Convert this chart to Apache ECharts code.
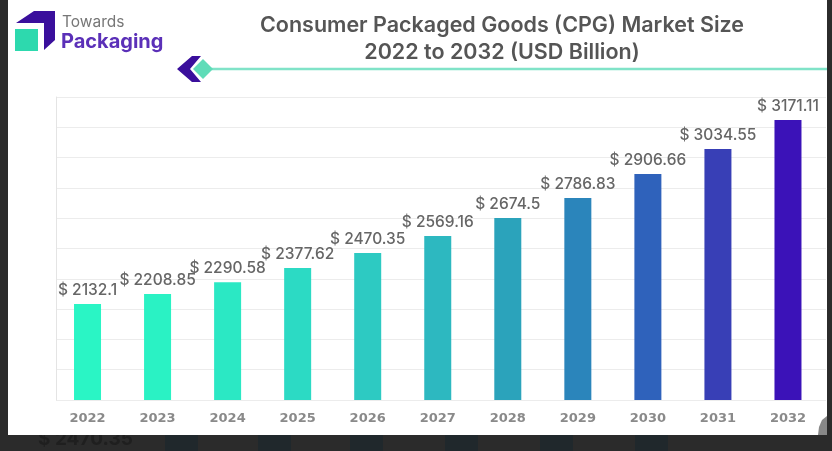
<!DOCTYPE html>
<html><head><meta charset="utf-8">
<style>html,body{margin:0;padding:0;background:#2b2b2b;overflow:hidden}#c{width:832px;height:451px;filter:blur(0.7px)}</style>
<script src="https://cdn.jsdelivr.net/npm/echarts@6/dist/echarts.min.js"></script>
</head><body><div id="c"></div>
<script>
const years=['2022','2023','2024','2025','2026','2027','2028','2029','2030','2031','2032'];
// Values printed above the bars in the picture.
const printedValues=['2132.1','2208.85','2290.58','2377.62','2470.35','2569.16','2674.5','2786.83','2906.66','3034.55','3171.11'];
// Bar heights as read against the unlabelled gridlines (the picture's bars are not proportional to the printed values).
const barLevels=[3.17,3.50,3.89,4.36,4.85,5.41,6.01,6.67,7.46,8.28,9.24];
const barColors=['#2af5c5','#2af2c4','#2be8c4','#2cdac4','#2dcac2','#2db8c0','#2ba3bb','#2b85bb','#2f62bb','#383fb6','#3b12b8'];
const titleLines='Consumer Packaged Goods (CPG) Market Size\n2022 to 2032 (USD Billion)';
const ghostX=[165,258,350,445,540,635];
const chart=echarts.init(document.getElementById('c'),null,{renderer:'canvas'});
const ghosts=ghostX.map(x=>({type:'rect',z:-3,shape:{x:x,y:430,width:33,height:21},style:{fill:'#20282c'}}));
chart.setOption({
  animation:false,
  backgroundColor:'transparent',
  grid:[
    {left:56,right:6,top:97,bottom:51},
    {left:52.5,right:9,top:97,bottom:51}
  ],
  xAxis:[
    {gridIndex:0,type:'category',data:years,show:false},
    {gridIndex:1,type:'category',data:years,
      axisLine:{show:false},axisTick:{show:false},
      axisLabel:{margin:12,color:'#8a8a8a',fontFamily:'DejaVu Sans',fontWeight:'bold',fontSize:13}}
  ],
  yAxis:[
    {gridIndex:0,type:'value',min:0,max:10,interval:1,
      axisLabel:{show:false},axisTick:{show:false},
      axisLine:{show:true,lineStyle:{color:'#e4e4e4',width:1}},
      splitLine:{show:true,lineStyle:{color:'#ececec',width:1}}},
    {gridIndex:1,type:'value',min:0,max:10,interval:1,show:false,splitLine:{show:false}}
  ],
  series:[{
    type:'bar',xAxisIndex:1,yAxisIndex:1,barWidth:27,
    data:barLevels.map((v,i)=>({value:v,itemStyle:{color:barColors[i]}})),
    label:{show:true,position:'top',distance:6,color:'#666',fontFamily:'Inter',fontWeight:500,fontSize:15.5,
      formatter:p=>'$ '+printedValues[p.dataIndex]}
  }],
  graphic:[
    ...ghosts,
    {type:'text',z:-3,style:{x:38,y:430,text:'$ 2470.35',fill:'#1f1f1f',font:'bold 19px Inter'}},
    {type:'rect',z:-2,shape:{x:8,y:0,width:819,height:435},style:{fill:'#ffffff'}},
    {type:'polygon',z:-1,shape:{points:[[827,416],[822,420],[819,427],[818,435],[827,435]]},style:{fill:'#888'}},
    {type:'polygon',shape:{points:[[16,23],[34,11],[55,11],[55,40],[44,50],[44,23]]},style:{fill:'#3a0f9c'}},
    {type:'rect',shape:{x:15,y:29,width:23,height:22},style:{fill:'#2dd9ae'}},
    {type:'text',style:{x:62,y:14,text:'Towards',fill:'#777',font:'15.5px Inter'}},
    {type:'text',style:{x:61,y:32,text:'Packaging',fill:'#5b30b8',font:'bold 20px Inter'}},
    {type:'text',style:{x:502,y:12,text:titleLines,fill:'#555',align:'center',lineHeight:27,font:'600 21.5px Inter'}},
    {type:'line',shape:{x1:205,y1:69,x2:827,y2:69},style:{stroke:'#80e3c8',lineWidth:2.5}},
    {type:'polygon',shape:{points:[[177,69],[192,56],[201,56],[190,69],[201,82],[192,82]]},style:{fill:'#3a0f9c'}},
    {type:'polygon',shape:{points:[[193,69],[203,59],[213,69],[203,79]]},style:{fill:'#5fdcb8'}}
  ]
});
</script></body></html>
